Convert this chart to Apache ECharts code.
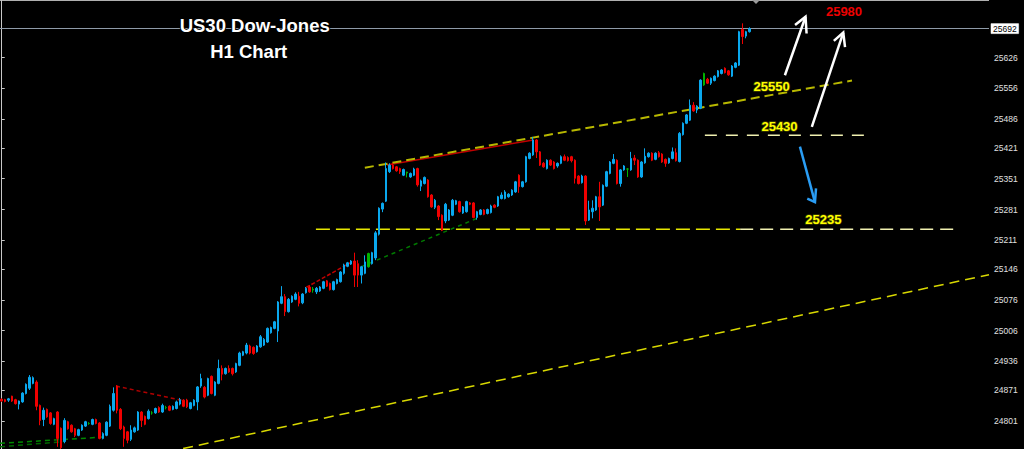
<!DOCTYPE html>
<html>
<head>
<meta charset="utf-8">
<script src="https://cdn.jsdelivr.net/npm/echarts@6/dist/echarts.min.js"></script>
<style>
html,body{margin:0;padding:0;background:#000;}
#chart{width:1024px;height:449px;}
</style>
</head>
<body>
<div id="chart"></div>
<script>
// ---- candle data (H1 bars, oldest first) ----
const opens = [24850,24849,24848,24857,24849,24839,24844,24863,24875,24886,24889,24836,24804,24827,24819,24793,24821,24784,24754,24799,24791,24783,24768,24780,24789,24795,24793,24804,24796,24761,24768,24789,24825,24880,24827,24787,24776,24759,24776,24780,24821,24811,24806,24819,24819,24831,24821,24831,24834,24827,24829,24839,24848,24848,24829,24836,24844,24880,24877,24859,24902,24859,24886,24920,24908,24920,24920,24912,24927,24950,24955,24971,24968,24958,24969,24973,24980,25001,25011,25005,25068,25083,25049,25071,25077,25084,25069,25092,25105,25098,25094,25096,25102,25119,25113,25099,25113,25117,25136,25152,25157,25164,25158,25132,25136,25151,25158,25171,25225,25282,25300,25367,25382,25378,25374,25359,25364,25355,25359,25374,25334,25340,25348,25314,25286,25289,25268,25255,25257,25268,25293,25299,25273,25276,25296,25296,25263,25270,25280,25272,25274,25291,25289,25306,25306,25310,25314,25321,25359,25333,25344,25397,25405,25439,25412,25386,25374,25393,25389,25380,25386,25401,25399,25401,25393,25357,25342,25357,25257,25276,25280,25310,25291,25334,25363,25386,25393,25340,25371,25373,25371,25398,25393,25355,25387,25401,25409,25395,25410,25407,25395,25387,25397,25410,25390,25451,25477,25484,25518,25507,25511,25564,25577,25568,25574,25583,25590,25602,25596,25584,25604,25609,25690,25675,25685];
const closes = [24846,24845,24851,24846,24840,24846,24864,24884,24900,24899,24834,24802,24825,24810,24795,24806,24761,24740,24802,24783,24776,24768,24781,24791,24799,24795,24804,24795,24761,24772,24798,24834,24863,24825,24783,24761,24757,24780,24785,24821,24802,24793,24823,24819,24829,24821,24836,24831,24825,24834,24844,24849,24834,24833,24842,24848,24878,24897,24855,24897,24863,24889,24920,24907,24920,24912,24908,24931,24955,24958,24973,24955,24954,24971,24992,24986,25011,25013,25026,25071,25083,25049,25077,25084,25089,25068,25089,25102,25094,25100,25102,25105,25117,25107,25099,25117,25122,25139,25155,25160,25164,25132,25132,25151,25162,25181,25183,25228,25284,25295,25374,25382,25374,25369,25367,25372,25366,25363,25373,25337,25346,25354,25310,25287,25302,25265,25234,25293,25280,25302,25301,25276,25287,25299,25293,25263,25276,25280,25270,25281,25289,25286,25310,25314,25321,25316,25325,25344,25333,25344,25401,25409,25439,25412,25382,25378,25393,25382,25374,25386,25401,25393,25392,25392,25352,25340,25357,25255,25280,25284,25310,25287,25336,25367,25389,25395,25340,25371,25380,25373,25397,25393,25355,25389,25402,25409,25393,25409,25401,25389,25386,25397,25412,25392,25454,25477,25496,25518,25505,25516,25575,25590,25568,25579,25584,25596,25598,25592,25587,25607,25614,25685,25674,25685,25692];
const lows = [24844,24843,24844,24844,24838,24827,24842,24861,24871,24884,24825,24791,24789,24808,24792,24791,24742,24737,24750,24781,24774,24764,24766,24778,24787,24792,24791,24793,24759,24759,24766,24787,24822,24818,24780,24742,24750,24755,24774,24778,24787,24791,24804,24815,24817,24819,24819,24827,24823,24825,24827,24836,24832,24830,24827,24834,24825,24876,24852,24857,24861,24857,24884,24893,24906,24910,24904,24910,24925,24948,24952,24952,24951,24956,24967,24971,24978,24999,25009,24980,25066,25039,25047,25069,25075,25061,25066,25090,25092,25092,25089,25094,25100,25105,25097,25097,25111,25115,25133,25150,25155,25105,25105,25113,25134,25149,25156,25166,25222,25275,25298,25364,25372,25367,25362,25357,25354,25353,25357,25333,25323,25338,25308,25285,25282,25257,25232,25250,25255,25266,25291,25274,25271,25274,25291,25261,25258,25268,25268,25270,25272,25284,25287,25304,25304,25308,25312,25319,25319,25331,25342,25395,25403,25398,25380,25376,25372,25380,25372,25376,25384,25391,25390,25388,25340,25338,25340,25246,25255,25261,25278,25255,25289,25332,25361,25384,25338,25333,25369,25355,25369,25382,25353,25353,25385,25399,25391,25393,25399,25387,25378,25385,25395,25390,25388,25449,25475,25482,25503,25500,25509,25562,25566,25564,25572,25581,25588,25590,25585,25582,25602,25607,25657,25670,25683];
const highs = [24852,24851,24853,24858,24851,24847,24866,24886,24905,24902,24893,24838,24831,24829,24821,24808,24823,24786,24807,24801,24793,24785,24783,24793,24801,24798,24806,24806,24798,24775,24800,24838,24877,24882,24830,24790,24778,24791,24788,24823,24823,24813,24827,24823,24831,24834,24840,24835,24836,24836,24847,24853,24850,24851,24844,24850,24880,24908,24880,24899,24904,24891,24940,24927,24922,24927,24922,24933,24958,24960,24978,24974,24970,24973,24996,24989,25013,25015,25028,25073,25107,25089,25080,25086,25093,25094,25091,25105,25109,25105,25105,25107,25119,25121,25115,25119,25124,25141,25158,25162,25166,25183,25166,25153,25177,25183,25185,25232,25286,25297,25388,25386,25387,25380,25376,25374,25367,25365,25376,25376,25349,25356,25350,25316,25305,25291,25270,25296,25282,25305,25303,25301,25289,25301,25298,25298,25278,25282,25282,25283,25292,25293,25312,25320,25325,25318,25327,25346,25361,25346,25403,25411,25446,25441,25414,25389,25395,25395,25391,25388,25404,25406,25402,25403,25395,25359,25360,25359,25301,25302,25312,25344,25338,25369,25391,25407,25395,25373,25382,25375,25412,25405,25395,25391,25420,25411,25411,25411,25414,25409,25397,25399,25422,25420,25457,25479,25498,25531,25525,25518,25577,25592,25580,25581,25586,25598,25600,25604,25598,25609,25616,25687,25704,25687,25695];
const greenBars = [25,43,47,89,105,116,179,201];
const slotCount = 283;              // bar slots across the plot (incl. empty right margin)
const lastPrice = 25692;
const priceTicks = [25626,25556,25486,25421,25351,25281,25211,25146,25076,25006,24936,24871,24801];

// ---- drawn objects: [bar index, price] ----
const upperChannel = [[103.9,25376],[243.3,25574]];
const lowerTrend = [[51.9,24738],[282.5,25133]];
const support25235 = [[89.9,25236],[211.3,25236]];
const support25235Ext = [[211.3,25236],[274.2,25236]];
const resist25430 = [[201.2,25450],[247.9,25450]];
const redLine1 = [[32.7,24880],[52.4,24846]];
const redLine2 = [[87.1,25104],[100.6,25164]];
const redLine3 = [[110.2,25382],[152.1,25439]];
const greenLine1 = [[-0.5,24750],[29,24764]];
const greenLine2 = [[-0.5,24742],[18,24754]];
const greenLine3 = [[103.1,25152],[136,25261]];
const arrowUp1 = {shaft:[[224.1,25586],[230.0,25719]], head:[[227.0,25700],[230.0,25719],[230.3,25681]]};
const arrowUp2 = {shaft:[[231.8,25469],[240.8,25683]], head:[[238.1,25664],[240.8,25683],[241.3,25650]]};
const arrowDown = {shaft:[[228.4,25424],[232.7,25298]], head:[[230.5,25306],[232.7,25298],[233.0,25329]]};

const BLUE='#0aa8ee', RED='#f00000', GREEN='#00b400';
const candleData = opens.map((o,i)=>{
  const v=[o,closes[i],lows[i],highs[i]];
  if(greenBars.includes(i)) return {value:v,itemStyle:{color:GREEN,color0:GREEN,borderColor:GREEN,borderColor0:GREEN}};
  return v;
});
const cats = Array.from({length:slotCount},(_,i)=>String(i));

function seg(data,color,width,dash){
  return {type:'line',xAxisIndex:1,yAxisIndex:0,data:data,symbol:'none',silent:true,animation:false,
    lineStyle:{color:color,width:width,type:dash||'solid'},z:3};
}

const chart = echarts.init(document.getElementById('chart'),null,{renderer:'svg'});
chart.setOption({
  backgroundColor:'#000',
  animation:false,
  grid:{left:0,right:35,top:0,bottom:0,containLabel:false},
  xAxis:[
    {type:'category',data:cats,boundaryGap:true,show:false},
    {type:'value',min:-0.5,max:slotCount-0.5,show:false}
  ],
  yAxis:{type:'value',position:'right',min:24737,max:25757,scale:true,
    splitLine:{show:false},
    axisLine:{show:true,lineStyle:{color:'#c8c8c8',width:1}},
    axisTick:{show:true,length:3,inside:false,customValues:priceTicks,lineStyle:{color:'#c8c8c8'}},
    axisLabel:{show:true,customValues:priceTicks,margin:5,color:'#e0e0e0',fontSize:8.5,fontFamily:'Liberation Sans',
      formatter:function(v){return String(Math.round(v));}}
  },
  series:[
    {type:'candlestick',xAxisIndex:0,yAxisIndex:0,data:candleData,barWidth:2,
      itemStyle:{color:BLUE,color0:RED,borderColor:BLUE,borderColor0:RED,borderWidth:1},
      markLine:{silent:true,symbol:'none',animation:false,
        lineStyle:{color:'#8e9aa8',width:1,type:'solid'},
        label:{show:true,position:'end',distance:2,formatter:String(lastPrice),color:'#000',backgroundColor:'#fff',
          borderColor:'#888',borderWidth:0.5,padding:[1,2,0,2],fontSize:8.5,fontFamily:'Liberation Sans'},
        data:[{yAxis:lastPrice}]},
      z:5},
    seg(greenLine1,'#008800',1.5,[5,4]),
    seg(greenLine2,'#006600',1.5,[5,4]),
    seg(greenLine3,'#007a00',1.5,[4,4]),
    seg(redLine1,'#b00000',1.5,[4,3]),
    seg(redLine2,'#c00000',1.5,[4,2]),
    seg(redLine3,'#c00000',1.5),
    seg(upperChannel,'#b8b800',2,[9,5]),
    seg(lowerTrend,'#d8d800',1.5,[10,6]),
    seg(support25235,'#e6e600',1.5,[14,6]),
    seg(support25235Ext,'#f0f0b0',1.5,[13,7]),
    seg(resist25430,'#f0f0b0',1.5,[12,9]),
    {type:'lines',coordinateSystem:'cartesian2d',xAxisIndex:1,yAxisIndex:0,polyline:true,silent:true,animation:false,z:6,
      lineStyle:{opacity:1,width:2.5,curveness:0},
      data:[
        {coords:arrowUp1.shaft,lineStyle:{color:'#ffffff'}},
        {coords:arrowUp1.head,lineStyle:{color:'#ffffff'}},
        {coords:arrowUp2.shaft,lineStyle:{color:'#ffffff'}},
        {coords:arrowUp2.head,lineStyle:{color:'#ffffff'}},
        {coords:arrowDown.shaft,lineStyle:{color:'#2a9df4'}},
        {coords:arrowDown.head,lineStyle:{color:'#2a9df4'}}
      ]}
  ],
  graphic:[
    {type:'line',shape:{x1:0,y1:0.5,x2:989,y2:0.5},style:{stroke:'#b0b0b0',lineWidth:1},silent:true},
    {type:'polygon',shape:{points:[[752,0],[760,0],[756,4]]},style:{fill:'#9a9a9a'},silent:true},
    {type:'text',x:254.7,y:25,style:{text:'US30 Dow-Jones',fill:'#ffffff',font:'bold 18.5px "Liberation Sans"',align:'center',verticalAlign:'middle',stroke:'#000',lineWidth:2},z:20},
    {type:'text',x:248.7,y:51,style:{text:'H1 Chart',fill:'#ffffff',font:'bold 18.5px "Liberation Sans"',align:'center',verticalAlign:'middle',stroke:'#000',lineWidth:2},z:20},
    {type:'text',x:844,y:11.5,style:{text:'25980',fill:'#ee0000',font:'bold 13px "Liberation Sans"',align:'center',verticalAlign:'middle'},z:20},
    {type:'text',x:771.7,y:86.2,style:{text:'25550',fill:'#ffff00',font:'bold 13px "Liberation Sans"',align:'center',verticalAlign:'middle',stroke:'#3a3a00',lineWidth:1.5},z:20},
    {type:'text',x:779.5,y:126.2,style:{text:'25430',fill:'#ffff00',font:'bold 13px "Liberation Sans"',align:'center',verticalAlign:'middle',stroke:'#3a3a00',lineWidth:1.5},z:20},
    {type:'text',x:823.3,y:219.5,style:{text:'25235',fill:'#ffff00',font:'bold 13px "Liberation Sans"',align:'center',verticalAlign:'middle',stroke:'#3a3a00',lineWidth:1.5},z:20}
  ]
});
</script>
</body>
</html>
